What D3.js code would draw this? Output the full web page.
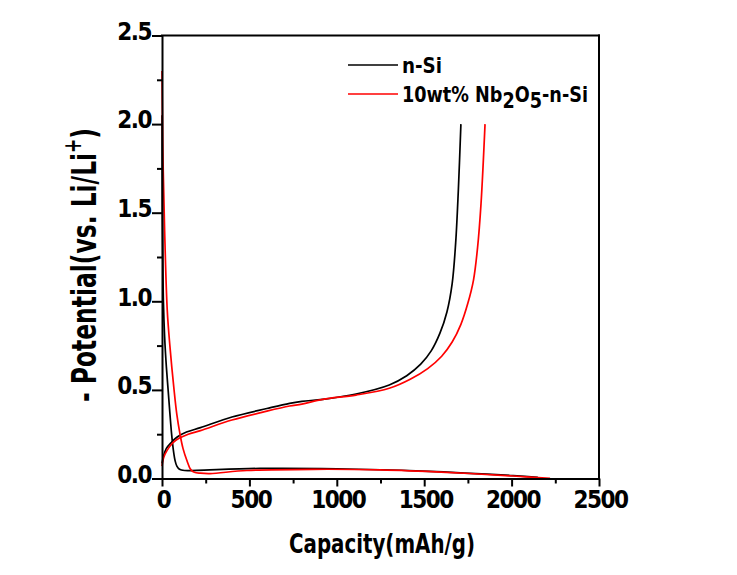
<!DOCTYPE html>
<html><head><meta charset="utf-8">
<script src="https://cdn.jsdelivr.net/npm/d3@7"></script>
<style>body{margin:0;background:#fff;} svg{display:block;}</style>
</head><body><svg id="c" width="737" height="575"></svg>
<script>
// ---- data ----
const xTicks = [0, 500, 1000, 1500, 2000, 2500];
const xMinorTicks = [250, 750, 1250, 1750, 2250];
const yTicks = [0, 0.5, 1.0, 1.5, 2.0, 2.5];
const yTickLabels = ["0.0", "0.5", "1.0", "1.5", "2.0", "2.5"];
const yMinorTicks = [0.25, 0.75, 1.25, 1.75, 2.25];
const seriesNames = ["n-Si", "10wt% Nb2O5-n-Si"];
const seriesColors = ["#000000", "#ff0000"];

// [capacity mAh/g, potential V]
const nSiDischarge = [[0,2.05],[2,1.5],[5,1.2],[8,1.0],[15,0.8],[25,0.63],[35,0.5],[45,0.37],[55,0.25],[65,0.16],[75,0.1],[85,0.07],[100,0.052],[130,0.045],[200,0.046],[560,0.057],[1000,0.055],[1491,0.042],[2009,0.016],[2150,0.006]];
const nSiCharge = [[0,0.085],[10,0.13],[25,0.17],[50,0.2],[85,0.233],[140,0.262],[220,0.287],[400,0.347],[600,0.395],[730,0.424],[800,0.435],[920,0.447],[1110,0.477],[1300,0.528],[1400,0.58],[1480,0.645],[1540,0.72],[1590,0.82],[1630,0.94],[1660,1.1],[1680,1.33],[1695,1.62],[1710,2.0]];
const nbDischarge = [[0,2.3],[3,2.0],[7,1.74],[15,1.4],[30,0.95],[45,0.75],[69,0.5],[85,0.36],[103,0.25],[120,0.17],[143,0.1],[165,0.05],[185,0.035],[220,0.03],[275,0.028],[485,0.045],[865,0.052],[1247,0.049],[1626,0.035],[2009,0.014],[2220,0.001]];
const nbCharge = [[0,0.07],[10,0.12],[30,0.16],[60,0.2],[100,0.228],[150,0.25],[220,0.27],[400,0.33],[600,0.38],[730,0.409],[800,0.42],[920,0.447],[1110,0.471],[1300,0.509],[1420,0.56],[1520,0.62],[1600,0.69],[1660,0.77],[1710,0.87],[1750,0.99],[1782,1.12],[1805,1.3],[1825,1.55],[1848,2.0]];

// ---- chart ----
const svg = d3.select("#c");
const FONT = "'DejaVu Sans Condensed','DejaVu Sans',sans-serif";
const x = d3.scaleLinear().domain([0, 2500]).range([162, 599]);
const y = d3.scaleLinear().domain([0, 2.5]).range([478.5, 35.5]);

const line = d3.line().x(d => x(d[0])).y(d => y(d[1])).curve(d3.curveCatmullRom.alpha(0.5));

const curves = [
  {data: nSiDischarge, color: seriesColors[0]},
  {data: nSiCharge, color: seriesColors[0]},
  {data: nbDischarge, color: seriesColors[1]},
  {data: nbCharge, color: seriesColors[1]}
];
svg.append("g").selectAll("path").data(curves).join("path")
  .attr("d", d => line(d.data))
  .attr("fill", "none")
  .attr("stroke", d => d.color)
  .attr("stroke-width", 1.7);

// frame (top, right)
svg.append("line").attr("x1", x(0)).attr("x2", x(2500)).attr("y1", y(2.5)).attr("y2", y(2.5))
  .attr("stroke", "#000").attr("stroke-width", 2).attr("stroke-linecap", "square");
svg.append("line").attr("x1", x(2500)).attr("x2", x(2500)).attr("y1", y(2.5)).attr("y2", y(0))
  .attr("stroke", "#000").attr("stroke-width", 2).attr("stroke-linecap", "square");

// axes
function styleAxis(g) {
  g.selectAll(".domain").attr("stroke", "#000").attr("stroke-width", 2);
  g.selectAll(".tick line").attr("stroke", "#000").attr("stroke-width", 2);
  g.selectAll("text").attr("fill", "#000").style("font-family", FONT)
    .style("font-size", "24px").style("font-weight", "bold").style("letter-spacing", "-1.5px");
}
const xAxis = svg.append("g").attr("transform", `translate(0,${y(0)})`)
  .call(d3.axisBottom(x).tickValues(xTicks).tickSize(8).tickPadding(4).tickSizeOuter(0).tickFormat(d3.format("d")));
styleAxis(xAxis);
xAxis.selectAll("text").attr("dx", "1px");
const xMinorAxis = svg.append("g").attr("transform", `translate(0,${y(0)})`)
  .call(d3.axisBottom(x).tickValues(xMinorTicks).tickSize(5).tickFormat(""));
styleAxis(xMinorAxis);
xMinorAxis.select(".domain").remove();

const yAxis = svg.append("g").attr("transform", `translate(${x(0)},0)`)
  .call(d3.axisLeft(y).tickValues(yTicks).tickSize(10).tickPadding(1).tickSizeOuter(0)
    .tickFormat((d, i) => yTickLabels[i]));
styleAxis(yAxis);
yAxis.selectAll("text").attr("dy", "0.16em");
const yMinorAxis = svg.append("g").attr("transform", `translate(${x(0)},0)`)
  .call(d3.axisLeft(y).tickValues(yMinorTicks).tickSize(5).tickFormat(""));
styleAxis(yMinorAxis);
yMinorAxis.select(".domain").remove();

// axis titles
svg.append("text").attr("x", 382).attr("y", 553).attr("text-anchor", "middle")
  .style("font-family", FONT).style("font-size", "27px").style("font-weight", "bold")
  .attr("textLength", 186).attr("lengthAdjust", "spacingAndGlyphs")
  .text("Capacity(mAh/g)");

const yt = svg.append("text").attr("transform", "translate(96,265) rotate(-90)")
  .attr("text-anchor", "middle")
  .style("font-family", FONT).style("font-size", "33px").style("font-weight", "bold")
  .attr("textLength", 274).attr("lengthAdjust", "spacingAndGlyphs");
yt.append("tspan").text("- Potential(vs. Li/Li");
yt.append("tspan").attr("dy", -15).style("font-size", "24px").text("+");
yt.append("tspan").attr("dy", 15).text(")");

// legend
const legendY = [65, 94];
const lg = svg.append("g");
lg.selectAll("line").data(seriesNames).join("line")
  .attr("x1", 348).attr("x2", 398)
  .attr("y1", (d, i) => legendY[i]).attr("y2", (d, i) => legendY[i])
  .attr("stroke", (d, i) => seriesColors[i]).attr("stroke-width", 1.7);
const legendText = lg.selectAll("text").data(seriesNames).join("text")
  .attr("x", 402).attr("y", (d, i) => legendY[i] + 7.5)
  .style("font-family", FONT).style("font-size", "21px").style("font-weight", "bold");
legendText.filter((d, i) => i === 0).attr("textLength", 40).attr("lengthAdjust", "spacingAndGlyphs").text(d => d);
const t2 = legendText.filter((d, i) => i === 1).attr("textLength", 186).attr("lengthAdjust", "spacingAndGlyphs");
t2.append("tspan").text("10wt% Nb");
t2.append("tspan").attr("dy", 6).text("2");
t2.append("tspan").attr("dy", -6).text("O");
t2.append("tspan").attr("dy", 6).text("5");
t2.append("tspan").attr("dy", -6).text("-n-Si");
</script>
</body></html>
